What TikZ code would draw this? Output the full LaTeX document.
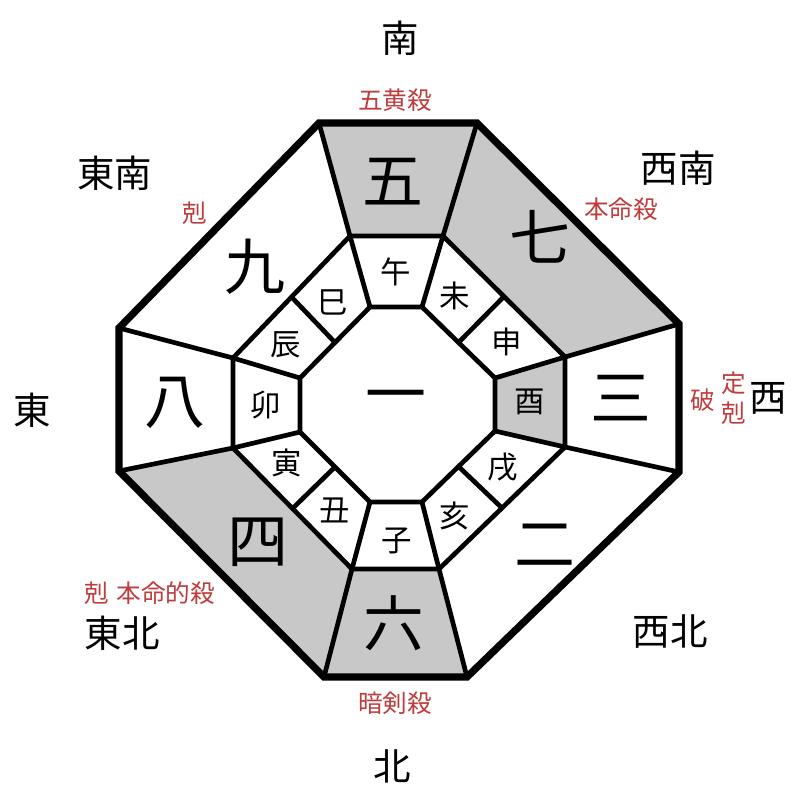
\documentclass[tikz,border=0pt]{standalone}
\usepackage{fontspec}
\usetikzlibrary{calc}
\setmainfont{Noto Sans CJK JP}
\newfontfamily\cjkf{Noto Sans CJK JP}
\definecolor{redlbl}{RGB}{190,60,60}
\definecolor{cellgray}{RGB}{200,200,200}
\begin{document}
\begin{tikzpicture}[x=0.03cm,y=-0.03cm,
  dirlbl/.style={font=\cjkf\fontsize{32}{32}\selectfont,text=black,inner sep=0pt},
  redl/.style={font=\cjkf\fontsize{21}{21}\selectfont,text=redlbl,inner sep=0pt},
  numl/.style={font=\cjkf\fontsize{52}{52}\selectfont,text=black,inner sep=0pt},
  brl/.style={font=\cjkf\fontsize{26}{26}\selectfont,text=black,inner sep=0pt},
  thinl/.style={line width=4pt,line join=miter},
  thickl/.style={line width=6.2pt,line join=miter}]
\useasboundingbox (0,0) rectangle (800,800);
\fill[white] (0,0) rectangle (800,800);
% outer
\coordinate (O1) at (319,123); \coordinate (O2) at (477,123);
\coordinate (O3) at (679,324); \coordinate (O4) at (679,472);
\coordinate (O5) at (467,677); \coordinate (O6) at (324,677);
\coordinate (O7) at (119,471); \coordinate (O8) at (119,328);
% middle
\coordinate (M1) at (350,236); \coordinate (M2) at (443,236);
\coordinate (M3) at (565,357); \coordinate (M4) at (565,447);
\coordinate (M5) at (439,569); \coordinate (M6) at (352,569);
\coordinate (M7) at (233,448); \coordinate (M8) at (233,358);
% inner
\coordinate (I1) at (370,307); \coordinate (I2) at (422,307);
\coordinate (I3) at (495,378); \coordinate (I4) at (495,431);
\coordinate (I5) at (422,502); \coordinate (I6) at (370,502);
\coordinate (I7) at (300,432); \coordinate (I8) at (300,378);
% shading
\fill[cellgray] (O1) -- (O2) -- (M2) -- (M1) -- cycle;
\fill[cellgray] (O2) -- (O3) -- (M3) -- (M2) -- cycle;
\fill[cellgray] (O7) -- (M7) -- (M6) -- (O6) -- cycle;
\fill[cellgray] (O6) -- (M6) -- (M5) -- (O5) -- cycle;
\fill[cellgray] (I3) -- (M3) -- (M4) -- (I4) -- cycle;
% middle and inner octagons
\draw[thinl] (M1) -- (M2) -- (M3) -- (M4) -- (M5) -- (M6) -- (M7) -- (M8) -- cycle;
\draw[thinl] (I1) -- (I2) -- (I3) -- (I4) -- (I5) -- (I6) -- (I7) -- (I8) -- cycle;
% spokes
\foreach \i in {1,...,8} {
  \draw[thinl] (O\i) -- (M\i);
  \draw[thinl] (M\i) -- (I\i);
}
% diagonal dividers
\draw[thinl] ($(I2)!0.5!(I3)$) -- ($(M2)!0.5!(M3)$);
\draw[thinl] ($(I4)!0.5!(I5)$) -- ($(M4)!0.5!(M5)$);
\draw[thinl] ($(I6)!0.5!(I7)$) -- ($(M6)!0.5!(M7)$);
\draw[thinl] ($(I8)!0.5!(I1)$) -- ($(M8)!0.5!(M1)$);
% outer octagon
\draw[thickl] (O1) -- (O2) -- (O3) -- (O4) -- (O5) -- (O6) -- (O7) -- (O8) -- cycle;
% numbers
\node[numl] (n5) at (393,182) {五};
\node[numl] (n7) at (540,237) {七};
\node[numl] (n9) at (255,267) {九};
\node[numl] (n8) at (175,403) {八};
\node[numl] (n1) at (396,403) {一};
\node[numl] (n3) at (621,398) {三};
\node[numl] (n2) at (545,545) {二};
\node[numl] (n4) at (258,542) {四};
\node[numl] (n6) at (394,623) {六};
% branches
\node[brl] (bwu) at (396,272) {午};
\node[brl] (bwei) at (455,296) {未};
\node[brl] (bshen) at (507,342) {申};
\node[brl] (bsi) at (333,302) {巳};
\node[brl] (bchen) at (286,345) {辰};
\node[brl] (bmao) at (266,405) {卯};
\node[brl] (byou) at (530,402) {酉};
\node[brl] (byin) at (287,463) {寅};
\node[brl] (bxu) at (503,467) {戌};
\node[brl] (bchou) at (335,510) {丑};
\node[brl] (bzi) at (397,541) {子};
\node[brl] (bhai) at (455,516) {亥};
% directions
\node[dirlbl] (dS) at (400,38) {南};
\node[dirlbl] (dSE) at (115,173) {東南};
\node[dirlbl] (dSW) at (678,168) {西南};
\node[dirlbl] (dE) at (32,410) {東};
\node[dirlbl] (dW) at (768,398) {西};
\node[dirlbl] (dNE) at (122,633) {東北};
\node[dirlbl] (dNW) at (670,632) {西北};
\node[dirlbl] (dN) at (392,766) {北};
% red labels
\node[redl] (r1) at (395,100) {五黄殺};
\node[redl] (r2) at (195,213) {剋};
\node[redl] (r3) at (621,209) {本命殺};
\node[redl] (r4) at (703,400) {破};
\node[redl] (r5) at (734,383) {定};
\node[redl] (r6) at (734,413) {剋};
\node[redl] (r7) at (150,593) {剋\hspace{0.3em}本命的殺};
\node[redl] (r8) at (395,703) {暗剣殺};
\end{tikzpicture}
\end{document}
